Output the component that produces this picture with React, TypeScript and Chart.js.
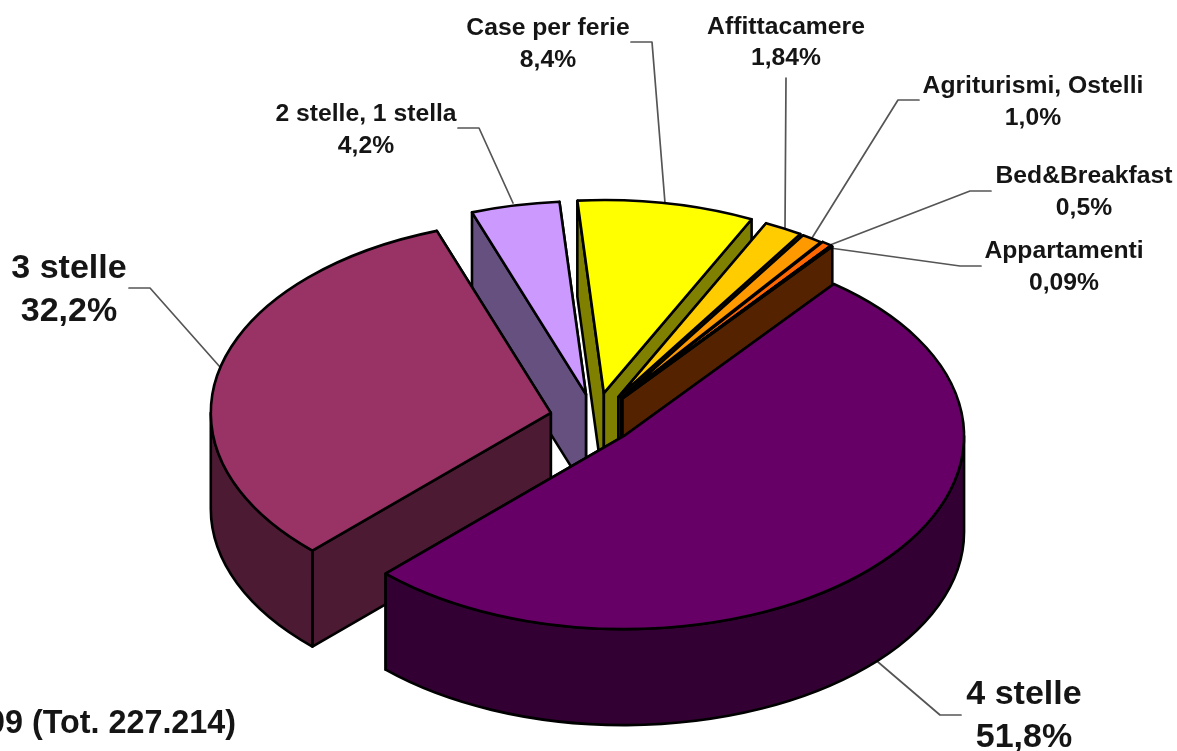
import React, { useEffect, useRef } from "react";
import { Chart, registerables } from "chart.js";

Chart.register(...registerables);

// ---- data (clockwise from the right edge of the largest slice)
const categories = [
  "4 stelle",
  "3 stelle",
  "2 stelle, 1 stella",
  "Case per ferie",
  "Affittacamere",
  "Agriturismi, Ostelli",
  "Bed&Breakfast",
  "Appartamenti",
];
const shares = [51.8, 32.2, 4.2, 8.4, 1.84, 1.0, 0.5, 0.09];
const shareLabels = ["51,8%", "32,2%", "4,2%", "8,4%", "1,84%", "1,0%", "0,5%", "0,09%"];
const footnote = "2009 (Tot. 227.214)";

// ---- styles
const topColors = ["#660066", "#993366", "#CC99FF", "#FFFF00", "#FFCC00", "#FF9900", "#FF6600", "#993300"];
const sideColors = ["#330033", "#4D1A33", "#665080", "#808000", "#806600", "#804D00", "#803300", "#552200"];
const explodePx = [48, 34, 48, 48, 48, 48, 48, 48];
const slideX = [4, 0, 12, 11, 11, 10, 10, 9];
const slideY = [1, 0, 4, 3, 4, 4, 3, 3];
const paintOrder = [2, 3, 4, 5, 6, 7, 1, 0];

const RADIUS = 340;
const SQUASH = 0.568;
const CENTER_Y = 417;
const DEPTH = 96;
const ROTATION = 38.1;

// label layout: text centre x, baselines, font size, leader polyline
const labelLayout = [
  { cx: 1024, lines: [704, 747], size: 34, leader: [[878, 662], [940, 715], [961, 715]] },
  { cx: 69, lines: [278, 321], size: 34, leader: [[220, 367], [150, 288], [129, 288]] },
  { cx: 366, lines: [121, 153], size: 24.7, leader: [[513, 203], [479, 128], [458, 128]] },
  { cx: 548, lines: [35, 67], size: 24.7, leader: [[665, 203], [652, 42], [631, 42]] },
  { cx: 786, lines: [34, 65], size: 24.7, leader: [[785, 228], [786, 78]] },
  { cx: 1033, lines: [93, 125], size: 24.7, leader: [[812, 238], [898, 100], [919, 100]] },
  { cx: 1084, lines: [183, 215], size: 24.7, leader: [[830, 245], [970, 191], [991, 191]] },
  { cx: 1064, lines: [258, 290], size: 24.7, leader: [[830, 248], [960, 266], [981, 266]] },
];

const FONT = '"Liberation Sans", Arial, sans-serif';

const pie3d = {
  id: "pie3d",
  beforeDatasetsDraw(chart: any) {
    const ctx: CanvasRenderingContext2D = chart.ctx;
    const arcs = chart.getDatasetMeta(0).data;
    const y0 = arcs[0].y;
    const projY = (y: number) => CENTER_Y + SQUASH * (y - y0);

    ctx.save();
    ctx.lineJoin = "round";
    ctx.lineCap = "round";

    // leaders are behind the pie
    ctx.strokeStyle = "#555";
    ctx.lineWidth = 1.7;
    labelLayout.forEach((l) => {
      ctx.beginPath();
      l.leader.forEach(([x, y], i) => (i ? ctx.lineTo(x, y) : ctx.moveTo(x, y)));
      ctx.stroke();
    });

    ctx.strokeStyle = "#000";
    ctx.lineWidth = 2.6;

    paintOrder.forEach((i) => {
      const arc = arcs[i];
      const a0 = arc.startAngle;
      const a1 = arc.endAngle;
      const mid = (a0 + a1) / 2;
      const off = arc.options.offset || 0;
      const R = arc.outerRadius;
      const cx = arc.x + Math.cos(mid) * off + slideX[i];
      const cy = projY(arc.y + Math.sin(mid) * off) + slideY[i];
      const pt = (a: number): [number, number] => [cx + R * Math.cos(a), cy + R * SQUASH * Math.sin(a)];

      const quad = (a: number) => {
        const [x, y] = pt(a);
        ctx.beginPath();
        ctx.moveTo(cx, cy);
        ctx.lineTo(x, y);
        ctx.lineTo(x, y + DEPTH);
        ctx.lineTo(cx, cy + DEPTH);
        ctx.closePath();
        ctx.fillStyle = sideColors[i];
        ctx.fill();
        ctx.stroke();
      };
      // the radial wall nearer the viewer goes last
      if (Math.cos(mid) > 0) {
        quad(a0);
        quad(a1);
      } else {
        quad(a1);
        quad(a0);
      }

      // outer wall: only the front half of the rim can be seen
      for (const k of [-2, 0, 2]) {
        const s = Math.max(a0, k * Math.PI);
        const e = Math.min(a1, (k + 1) * Math.PI);
        if (e > s) {
          ctx.beginPath();
          ctx.ellipse(cx, cy, R, R * SQUASH, 0, s, e);
          ctx.ellipse(cx, cy + DEPTH, R, R * SQUASH, 0, e, s, true);
          ctx.closePath();
          ctx.fillStyle = sideColors[i];
          ctx.fill();
          ctx.stroke();
        }
      }

      // top face
      ctx.beginPath();
      ctx.moveTo(cx, cy);
      ctx.ellipse(cx, cy, R, R * SQUASH, 0, a0, a1);
      ctx.closePath();
      ctx.fillStyle = topColors[i];
      ctx.fill();
      ctx.stroke();
    });

    // labels
    ctx.fillStyle = "#151515";
    ctx.textAlign = "center";
    ctx.textBaseline = "alphabetic";
    labelLayout.forEach((l, i) => {
      ctx.font = `bold ${l.size}px ${FONT}`;
      ctx.fillText(categories[i], l.cx, l.lines[0]);
      ctx.fillText(shareLabels[i], l.cx, l.lines[1]);
    });
    ctx.font = `bold 32.3px ${FONT}`;
    ctx.textAlign = "right";
    ctx.fillText(footnote, 236, 733);

    ctx.restore();
    return false;
  },
};

export default function App() {
  const ref = useRef<HTMLCanvasElement>(null);
  useEffect(() => {
    if (!ref.current) return;
    const chart = new Chart(ref.current, {
      type: "pie",
      data: {
        labels: categories,
        datasets: [{ data: shares, backgroundColor: topColors, offset: explodePx, borderWidth: 0 }],
      },
      options: {
        responsive: false,
        animation: false,
        rotation: ROTATION,
        radius: RADIUS,
        layout: { padding: { right: 9 } },
        plugins: { legend: { display: false }, tooltip: { enabled: false } },
      },
      plugins: [pie3d],
    } as any);
    return () => chart.destroy();
  }, []);
  return (
    <canvas
      ref={ref}
      width={1177}
      height={751}
      style={{ position: "absolute", left: 0, top: 0, display: "block", background: "#fff" }}
    />
  );
}
